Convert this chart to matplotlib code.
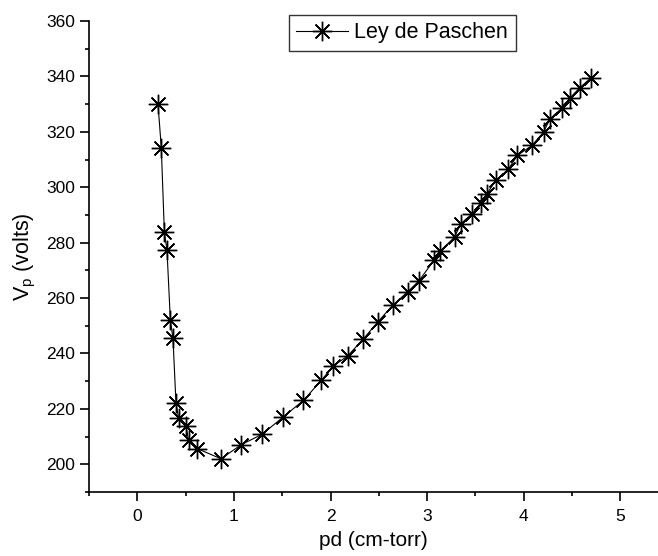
import matplotlib
matplotlib.use("Agg")
import matplotlib.pyplot as plt
from matplotlib.ticker import MultipleLocator

plt.rcParams["font.family"] = ["Liberation Sans", "DejaVu Sans"]
plt.rcParams["mathtext.fontset"] = "custom"
plt.rcParams["mathtext.rm"] = "Liberation Sans"

# pd (cm-torr) vs breakdown voltage (volts)
pd_values = [0.214, 0.248, 0.28, 0.307, 0.342, 0.369, 0.40, 0.428, 0.504, 0.53,
             0.618, 0.866, 1.077, 1.29, 1.508, 1.72, 1.905, 2.026, 2.177, 2.336,
             2.49, 2.643, 2.80, 2.915, 3.07, 3.135, 3.285, 3.347, 3.468, 3.56,
             3.62, 3.712, 3.84, 3.935, 4.086, 4.205, 4.27, 4.395, 4.48, 4.58, 4.70]
vp_values = [330, 314.3, 283.7, 277.3, 252, 245.5, 222.2, 216.6, 213.8, 208.7,
             205.7, 202, 207.1, 210.8, 217, 223.1, 230.3, 235.4, 239.1, 245.1,
             251.4, 257.4, 262.3, 266.2, 273.6, 277, 282, 286.8, 290.5, 294.4,
             297.7, 302.5, 306.5, 311.5, 315.1, 319.9, 324.6, 328.6, 332.3, 335.9, 339.6]
x_ticks = [0, 1, 2, 3, 4, 5]
y_ticks = [200, 220, 240, 260, 280, 300, 320, 340, 360]

fig = plt.figure(figsize=(6.58, 5.56), dpi=100)
ax = fig.add_axes([0.1353, 0.1151, 0.8647, 0.8471])

ax.plot(pd_values, vp_values, color="black", linewidth=0.8,
        marker=(8, 2, 0), markersize=14, markeredgewidth=1.0,
        markeredgecolor="black", label="Ley de Paschen")

ax.set_xlim(-0.5, 5.39)
ax.set_ylim(190, 360)
ax.set_xticks(x_ticks)
ax.set_yticks(y_ticks)
ax.xaxis.set_minor_locator(MultipleLocator(0.5))
ax.yaxis.set_minor_locator(MultipleLocator(10))

for side in ["top", "right"]:
    ax.spines[side].set_visible(False)
ax.spines["left"].set_linewidth(1.2)
ax.spines["bottom"].set_linewidth(1.2)
ax.tick_params(which="major", direction="out", length=6.5, width=1.2, labelsize=12.5)
ax.tick_params(which="minor", direction="out", length=3, width=1.2)
ax.tick_params(axis="x", which="major", pad=6)

ax.set_xlabel("pd (cm-torr)", fontsize=15, labelpad=5)
ax.set_ylabel(r"V$_\mathrm{p}$ (volts)", fontsize=15.5, labelpad=6)

leg = ax.legend(loc="upper left", bbox_to_anchor=(0.351, 1.013), fontsize=15.5,
                frameon=True, fancybox=False, edgecolor="black",
                handlelength=2.4, borderpad=0.35, handletextpad=0.3,
                borderaxespad=0)
leg.get_frame().set_linewidth(1.0)

fig.savefig("out.png", dpi=100)
